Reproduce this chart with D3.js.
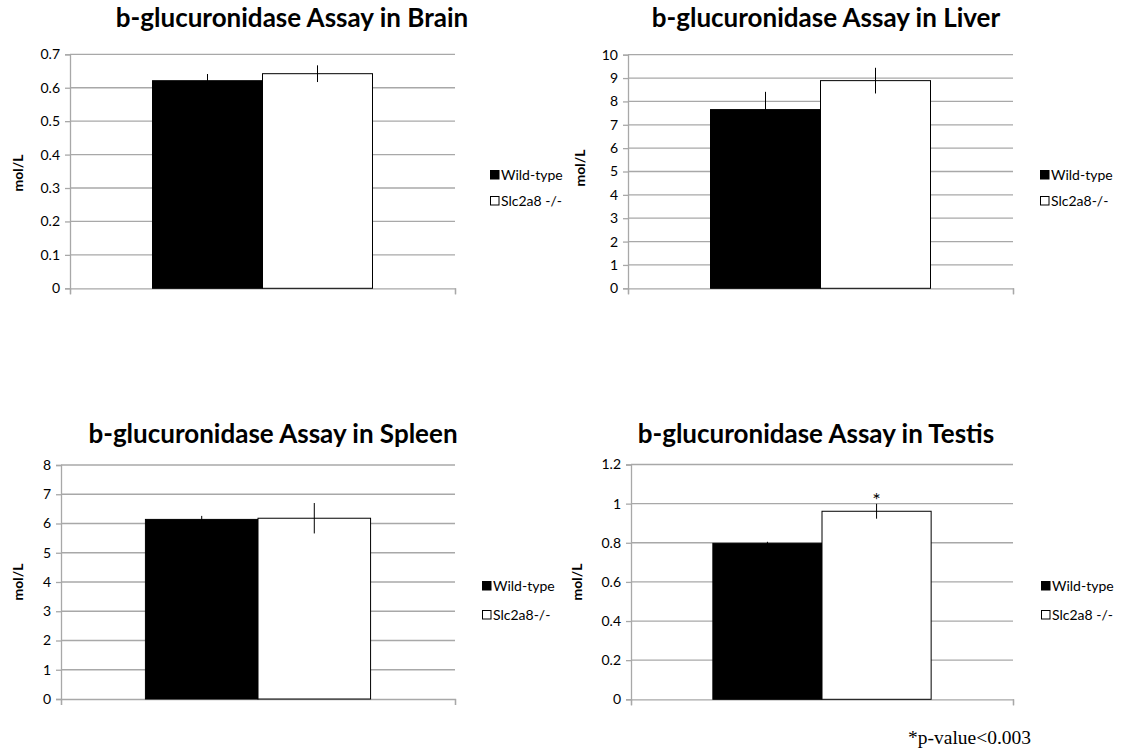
<!DOCTYPE html>
<html lang="en">
<head>
  <meta charset="utf-8">
  <title>b-glucuronidase Assay</title>
  <style>
  html, body {padding: 0; margin: 0; overflow: hidden; background: #fff}
  text {font-family: Lato, "Open Sans", sans-serif}
</style>
</head>
<body>
  <svg width="1129" height="753"></svg>
  <script src="https://d3js.org/d3.v7.min.js"></script>
  <script>

  // values
  var tissues = ["Brain", "Liver", "Spleen", "Testis"];
  var wildType = [0.621, 7.65, 6.14, 0.797];
  var wildTypeErr = [0.02, 0.76, 0.12, 0.008];
  var knockout = [0.642, 8.89, 6.18, 0.961];
  var knockoutErr = [0.025, 0.55, 0.52, 0.038];
  var yMax = [0.7, 10, 8, 1.2];
  var yStep = [0.1, 1, 1, 0.2];
  var seriesNames = ["Wild-type", "Slc2a8 -/-"];
  var knockoutLabels = ["Slc2a8 -/-", "Slc2a8-/-", "Slc2a8-/-", "Slc2a8 -/-"];
  var significant = [false, false, false, true];
  var footnote = "*p-value<0.003";

  // where each little chart sits on the page
  var panels = [
    {x0: 70, x1: 455, top: 54.3, bottom: 288.3, legX: 490, legY: 170, legGap: 26, titleX: 292, titleY: 27, labX: 23, labY: 173},
    {x0: 628, x1: 1013, top: 54.7, bottom: 288.3, legX: 1040, legY: 170, legGap: 26, titleX: 826, titleY: 27, labX: 585, labY: 168},
    {x0: 61, x1: 455, top: 465, bottom: 699, legX: 482, legY: 581, legGap: 29, titleX: 273, titleY: 443, labX: 23, labY: 582},
    {x0: 631, x1: 1013, top: 464.5, bottom: 699.3, legX: 1041, legY: 581, legGap: 29, titleX: 816, titleY: 443, labX: 582, labY: 582}
  ];

  var svg = d3.select("svg");
  var gridColor = "#a8a8a8";

  tissues.forEach(function(tissue, i) {
    var p = panels[i];
    var g = svg.append("g");

    var y = d3.scaleLinear().domain([0, yMax[i]]).range([p.bottom, p.top]);
    var x = d3.scaleBand().domain([tissue]).range([p.x0, p.x1]);
    // Excel gap width 150% -> two bars take 2/3.5 of the category
    var bw = x.bandwidth() / 3.5;
    var bx = x(tissue) + x.bandwidth() / 2 - bw;

    var ticks = d3.range(0, yMax[i] + yStep[i] / 2, yStep[i]);

    // gridlines
    g.selectAll(".grid").data(ticks.slice(1)).enter().append("line")
      .attr("x1", p.x0).attr("x2", p.x1)
      .attr("y1", function(d) { return y(d); })
      .attr("y2", function(d) { return y(d); })
      .attr("stroke", gridColor).attr("stroke-width", 1.3);

    // y axis
    var yAxis = d3.axisLeft(y).tickValues(ticks).tickSize(5).tickPadding(5)
      .tickFormat(function(d) { return +d.toFixed(1) + ""; });
    var ya = g.append("g").attr("transform", "translate(" + p.x0 + ",0)").call(yAxis);
    ya.select(".domain").attr("stroke", gridColor).attr("stroke-width", 1.3);
    ya.selectAll(".tick line").attr("stroke", gridColor).attr("stroke-width", 1.3);
    ya.selectAll("text").attr("font-size", 14).attr("fill", "#000")
      .style("font-family", "Lato, sans-serif");

    // x axis: only the base line and the two end ticks
    var xa = g.append("g").attr("transform", "translate(0," + y(0) + ")")
      .call(d3.axisBottom(d3.scaleLinear().domain([0, 1]).range([p.x0, p.x1]))
        .tickValues([0, 1]).tickSize(6).tickFormat(""));
    xa.select(".domain").attr("stroke", gridColor).attr("stroke-width", 1.3);
    xa.selectAll(".tick line").attr("stroke", gridColor).attr("stroke-width", 1.3);

    // bars
    var bars = [
      {v: wildType[i], e: wildTypeErr[i], fill: "#000", x: bx},
      {v: knockout[i], e: knockoutErr[i], fill: "#fff", x: bx + bw}
    ];
    g.selectAll(".bar").data(bars).enter().append("rect")
      .attr("x", function(d) { return d.x; })
      .attr("y", function(d) { return y(d.v); })
      .attr("width", bw)
      .attr("height", function(d) { return y(0) - y(d.v); })
      .attr("fill", function(d) { return d.fill; })
      .attr("stroke", "#000").attr("stroke-width", 1);

    // error bars (no caps)
    g.selectAll(".err").data(bars).enter().append("line")
      .attr("x1", function(d) { return d.x + bw / 2; })
      .attr("x2", function(d) { return d.x + bw / 2; })
      .attr("y1", function(d) { return y(d.v + d.e); })
      .attr("y2", function(d) { return y(d.v - d.e); })
      .attr("stroke", "#000")
      .attr("stroke-width", 1);

    if (significant[i]) {
      g.append("text")
        .attr("x", bx + bw * 1.5).attr("y", y(knockout[i] + knockoutErr[i]) + 3)
        .attr("text-anchor", "middle").attr("font-size", 20)
        .text("*");
    }

    // title
    g.append("text")
      .attr("x", p.titleX).attr("y", p.titleY)
      .attr("text-anchor", "middle")
      .attr("font-size", 26).attr("font-weight", "bold")
      .text("b-glucuronidase Assay in " + tissue);

    // y label
    g.append("text")
      .attr("transform", "translate(" + p.labX + "," + p.labY + ") rotate(-90)")
      .attr("text-anchor", "middle")
      .attr("font-size", 14).attr("font-weight", "bold")
      .text("mol/L");

    // legend
    var names = [seriesNames[0], knockoutLabels[i]];
    var leg = g.selectAll(".leg").data(names).enter().append("g")
      .attr("transform", function(d, k) { return "translate(" + p.legX + "," + (p.legY + k * p.legGap) + ")"; });
    leg.append("rect")
      .attr("x", 0.5).attr("y", 0.5).attr("width", 8.5).attr("height", 8.5)
      .attr("fill", function(d, k) { return k ? "#fff" : "#000"; })
      .attr("stroke", "#000").attr("stroke-width", 1);
    leg.append("text")
      .attr("x", 11).attr("y", 9.5)
      .attr("font-size", 14)
      .text(function(d) { return d; });
  });

  svg.append("text")
    .attr("x", 908).attr("y", 744)
    .style("font-family", "'Liberation Serif', serif")
    .attr("font-size", 19.5)
    .text(footnote);

  </script>
</body>
</html>
